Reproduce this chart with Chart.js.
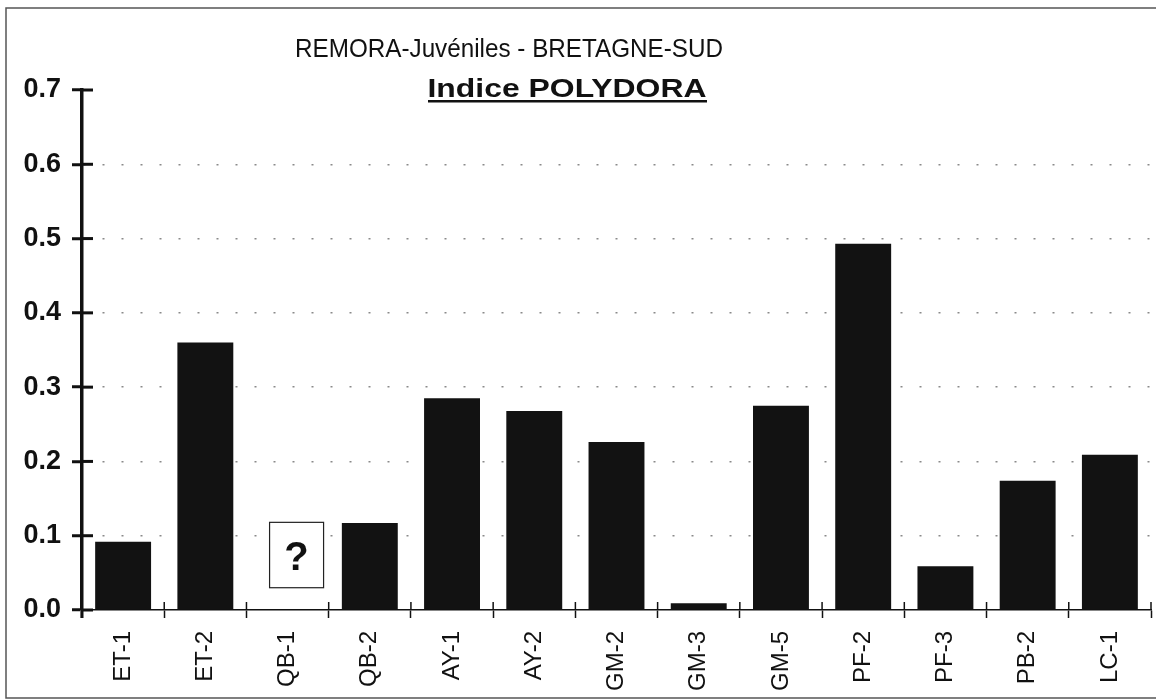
<!DOCTYPE html>
<html>
<head>
<meta charset="utf-8">
<script src="https://cdn.jsdelivr.net/npm/chart.js@4.4.1/dist/chart.umd.min.js"></script>
<style>
  html, body { margin: 0; padding: 0; background: #fff; }
  #wrap { width: 1156px; height: 700px; }
</style>
</head>
<body>
<div id="wrap"><canvas id="myChart" width="1156" height="700"></canvas></div>
<script>
const stations = ['ET-1', 'ET-2', 'QB-1', 'QB-2', 'AY-1', 'AY-2', 'GM-2', 'GM-3', 'GM-5', 'PF-2', 'PF-3', 'PB-2', 'LC-1'];
const indicePolydora = [0.092, 0.36, null, 0.117, 0.285, 0.268, 0.226, 0.009, 0.275, 0.493, 0.059, 0.174, 0.209];
const yTicks = [0.0, 0.1, 0.2, 0.3, 0.4, 0.5, 0.6, 0.7];
const missingStation = 'QB-1';

const FONT = '"Liberation Sans", Arial, Helvetica, sans-serif';

// draws text stretched horizontally to a given width
function fitText(ctx, text, cx, y, width) {
    const w = ctx.measureText(text).width;
    ctx.save();
    ctx.translate(cx, y);
    ctx.scale(width / w, 1);
    ctx.fillText(text, 0, 0);
    ctx.restore();
}

// frame, titles, "?" marker and the inner half of the axis ticks
const decorations = {
    id: 'decorations',
    beforeDraw(chart) {
        const ctx = chart.ctx;
        ctx.save();
        ctx.fillStyle = '#fff';
        ctx.fillRect(0, 0, chart.width, chart.height);
        ctx.strokeStyle = '#555';
        ctx.lineWidth = 1.5;
        ctx.strokeRect(6, 8, chart.width, chart.height - 10);
        ctx.restore();
    },
    afterDraw(chart) {
        const ctx = chart.ctx;
        const x = chart.scales.x;
        const y = chart.scales.y;
        ctx.save();

        // titles
        ctx.fillStyle = '#111';
        ctx.textAlign = 'center';
        ctx.textBaseline = 'alphabetic';
        ctx.font = '26px ' + FONT;
        fitText(ctx, 'REMORA-Juvéniles - BRETAGNE-SUD', 509, 57, 428);
        ctx.font = 'bold 25px ' + FONT;
        fitText(ctx, 'Indice POLYDORA', 567, 97, 279);
        ctx.fillRect(428, 100, 279, 2.5);

        // y axis continues below the x axis
        ctx.strokeStyle = '#111';
        ctx.lineWidth = 3;
        ctx.beginPath();
        ctx.moveTo(x.left, y.bottom);
        ctx.lineTo(x.left, y.bottom + 8);
        ctx.stroke();

        // inner half of y ticks
        y.ticks.forEach((t, i) => {
            const py = y.getPixelForTick(i);
            ctx.beginPath();
            ctx.moveTo(x.left, py);
            ctx.lineTo(x.left + 11, py);
            ctx.stroke();
        });

        // inner half of x ticks (category boundaries)
        ctx.lineWidth = 1.5;
        const step = (x.right - x.left) / stations.length;
        for (let i = 1; i <= stations.length; i++) {
            const px = x.left + i * step;
            ctx.beginPath();
            ctx.moveTo(px, y.bottom - 8);
            ctx.lineTo(px, y.bottom);
            ctx.stroke();
        }

        // "?" for the missing station
        const qi = stations.indexOf(missingStation);
        const cx = x.getPixelForValue(qi) + 9;
        const top = y.getPixelForValue(0.118);
        const bot = y.getPixelForValue(0.03);
        ctx.fillStyle = '#fff';
        ctx.fillRect(cx - 27, top, 54, bot - top);
        ctx.strokeStyle = '#222';
        ctx.lineWidth = 1.2;
        ctx.strokeRect(cx - 27, top, 54, bot - top);
        ctx.fillStyle = '#111';
        ctx.font = 'bold 40px ' + FONT;
        ctx.textAlign = 'center';
        ctx.textBaseline = 'alphabetic';
        ctx.fillText('?', cx, (top + bot) / 2 + 15);
        ctx.restore();
    }
};

const data = {
    labels: stations,
    datasets: [{
        label: 'Indice POLYDORA',
        data: indicePolydora,
        backgroundColor: '#121212',
        borderWidth: 0,
        barPercentage: 1.0,
        categoryPercentage: 0.68
    }]
};

const config = {
    type: 'bar',
    data: data,
    options: {
        responsive: false,
        animation: false,
        layout: { padding: { top: 90, right: 5, left: 0, bottom: 0 } },
        plugins: {
            legend: { display: false },
            title: { display: false },
            tooltip: { enabled: false }
        },
        scales: {
            x: {
                afterFit: (scale) => { scale.height = 90; },
                border: { display: true, color: '#111', width: 1.5 },
                grid: {
                    offset: true,
                    drawOnChartArea: false,
                    drawTicks: true,
                    tickLength: 8,
                    tickColor: '#111',
                    tickWidth: 1.5
                },
                ticks: {
                    color: '#111',
                    font: { family: FONT, size: 24 },
                    minRotation: 90,
                    maxRotation: 90,
                    padding: 13,
                    autoSkip: false
                }
            },
            y: {
                min: 0,
                max: 0.7,
                afterFit: (scale) => { scale.width = 82; },
                afterBuildTicks: (scale) => { scale.ticks = yTicks.map(v => ({ value: v })); },
                border: { display: true, color: '#111', width: 3.5, dash: [2, 17] },
                grid: {
                    color: (c) => (c.tick && (c.tick.value === 0 || c.tick.value >= 0.7)) ? 'rgba(0,0,0,0)' : '#8a8a8a',
                    lineWidth: 1.5,
                    tickLength: 10,
                    tickColor: '#111',
                    tickWidth: 3,
                    tickBorderDash: []
                },
                ticks: {
                    color: '#111',
                    font: { family: FONT, size: 27, weight: 'bold' },
                    padding: 11,
                    callback: (v) => Number(v).toFixed(1)
                }
            }
        }
    },
    plugins: [decorations]
};

const myChart = new Chart(
    document.getElementById('myChart'),
    config
);
</script>
</body>
</html>
